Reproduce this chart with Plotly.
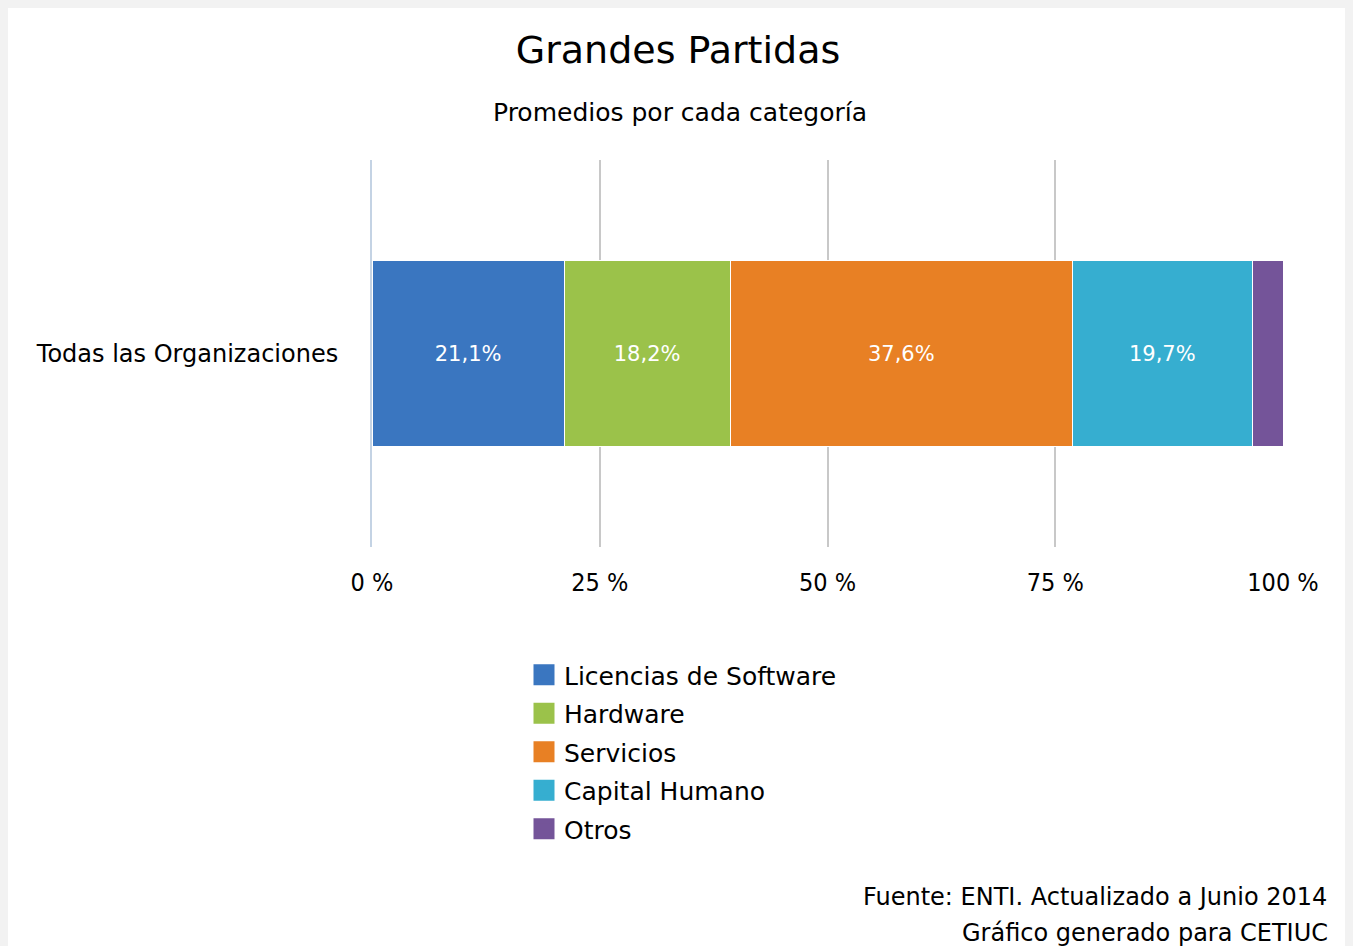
import plotly.graph_objects as go

# datos
categoria = ["Todas las Organizaciones"]
series = ["Licencias de Software", "Hardware", "Servicios", "Capital Humano", "Otros"]
valores = [21.1, 18.2, 37.6, 19.7, 3.4]
etiquetas = ["21,1%", "18,2%", "37,6%", "19,7%", ""]
colores = ["#3a76c0", "#9bc24a", "#e88024", "#36aed0", "#745499"]
ticks_x = [0, 25, 50, 75, 100]
ticks_txt = ["0 %", "25 %", "50 %", "75 %", "100 %"]

FONT = "DejaVu Sans"
W, H = 1345, 938
L, R, T, B = 364, 70, 152, 399
PW, PH = W - L - R, H - T - B


def px(x):
    return (x - L) / PW


def py(y):
    return (H - B - y) / PH


fig = go.Figure()
for nombre, v, et, c in zip(series, valores, etiquetas, colores):
    fig.add_trace(go.Bar(
        y=categoria, x=[v], name=nombre, orientation="h",
        marker=dict(color=c, line=dict(color="white", width=1)),
        text=[et], textposition="inside", insidetextanchor="middle",
        textfont=dict(color="white", size=21, family=FONT),
        width=0.48, hoverinfo="name+x", showlegend=False,
    ))
    # entrada de leyenda con cuadro mas grande
    fig.add_trace(go.Scatter(
        x=[None], y=[None], name=nombre, mode="markers", legendgroup=nombre,
        marker=dict(symbol="square", size=26, color=c, line=dict(color=c, width=5)),
        showlegend=True, hoverinfo="skip",
    ))

fig.update_layout(
    barmode="stack",
    width=W, height=H,
    margin=dict(l=L, r=R, t=T, b=B),
    paper_bgcolor="white",
    plot_bgcolor="rgba(0,0,0,0)",
    font=dict(family=FONT, color="black"),
    title=dict(text="Grandes Partidas", x=670 / W, xref="container", xanchor="center",
               y=1 - 42 / H, yanchor="middle", font=dict(size=38, family=FONT)),
    showlegend=True,
    legend=dict(orientation="v", x=px(516), xanchor="left", y=py(644), yanchor="top",
                font=dict(size=25, family=FONT), traceorder="grouped",
                itemsizing="trace", tracegroupgap=3, bgcolor="rgba(0,0,0,0)"),
    xaxis=dict(range=[0, 100], tickvals=ticks_x, ticktext=ticks_txt,
               showgrid=True, gridcolor="#c8c8c8", gridwidth=2, zeroline=False,
               showline=False, ticks="", ticklabelstandoff=18,
               tickfont=dict(size=25, family="DejaVu Sans Condensed")),
    yaxis=dict(showline=True, linecolor="#c4d3e4", linewidth=2, ticks="",
               ticklabelstandoff=27, tickfont=dict(size=24, family=FONT),
               showgrid=False, range=[-0.5, 0.5]),
)

fig.add_annotation(text="Promedios por cada categoría", xref="paper", yref="paper",
                   x=px(672), y=py(104), showarrow=False,
                   xanchor="center", yanchor="middle", font=dict(size=25, family=FONT))
fig.add_annotation(text="Fuente: ENTI. Actualizado a Junio 2014", xref="paper", yref="paper",
                   x=px(1321), y=py(889), showarrow=False,
                   xanchor="right", yanchor="middle", font=dict(size=24, family=FONT))
fig.add_annotation(text="Gráfico generado para CETIUC", xref="paper", yref="paper",
                   x=px(1322), y=py(925), showarrow=False,
                   xanchor="right", yanchor="middle", font=dict(size=24, family=FONT))

# fondo gris de la pagina alrededor de la tarjeta
fig.write_html("out.html", post_script="document.body.style.background='#f2f2f2';")
